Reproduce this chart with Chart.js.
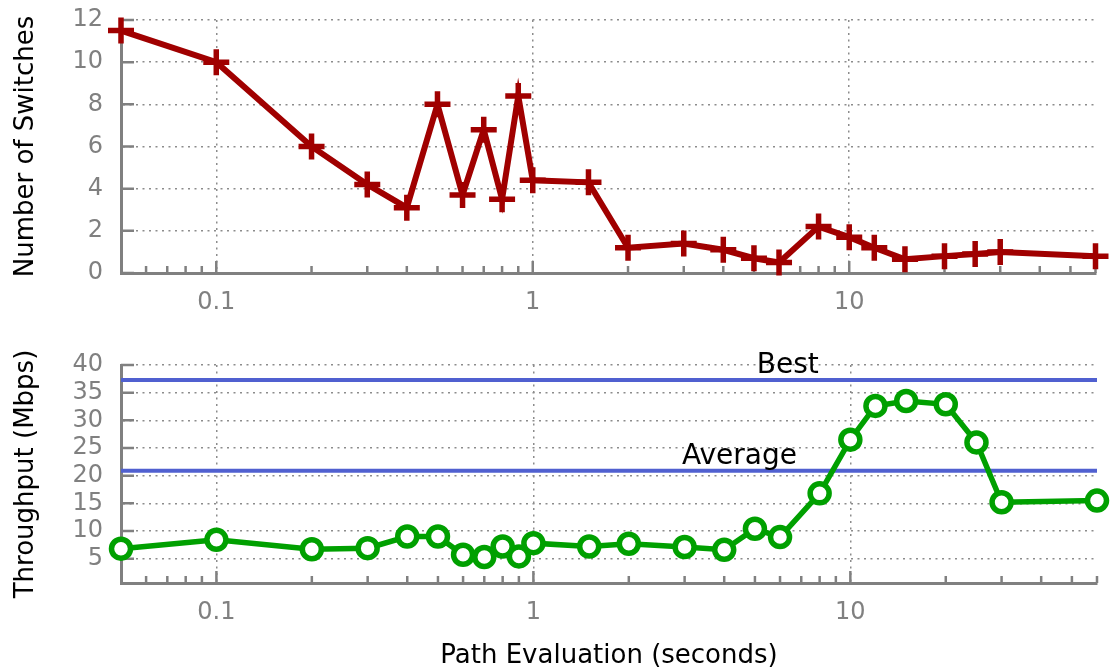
<!DOCTYPE html>
<html>
<head>
<meta charset="utf-8">
<script src="https://cdn.jsdelivr.net/npm/chart.js@4.4.1/dist/chart.umd.min.js"></script>
<style>
body { margin: 0; background: #fff; }
#wrap { position: relative; width: 1114px; height: 672px; }
canvas { position: absolute; left: 0; }
</style>
</head>
<body>
<div id="wrap">
<canvas id="switchChart" width="1114" height="330" style="top:0px"></canvas>
<canvas id="tputChart" width="1114" height="342" style="top:330px"></canvas>
</div>
<script>
// path evaluation interval (seconds), same for both plots
evalSeconds = [0.05, 0.1, 0.2, 0.3, 0.4, 0.5, 0.6, 0.7, 0.8, 0.9, 1, 1.5, 2, 3, 4, 5, 6, 8, 10, 12, 15, 20, 25, 30, 60]

switches = [11.5, 10, 6, 4.2, 3.1, 8, 3.7, 6.8, 3.5, 8.4, 4.4, 4.3, 1.2, 1.4, 1.1, 0.7, 0.5, 2.2, 1.7, 1.2, 0.65, 0.8, 0.9, 1.0, 0.8]

throughput = [6.8, 8.4, 6.7, 6.9, 9.0, 9.0, 5.7, 5.3, 7.2, 5.4, 7.8, 7.2, 7.7, 7.1, 6.6, 10.4, 8.9, 16.8, 26.5, 32.6, 33.5, 32.9, 26.0, 15.2, 15.5]

// reference lines in the throughput plot
refNames = ['Best', 'Average']
refValues = [37.3, 20.9]
refLabelAt = [6.35, 4.47]

// axis ticks
xMajor = [0.1, 1, 10]
xMinor = [0.06, 0.07, 0.08, 0.09, 0.2, 0.3, 0.4, 0.5, 0.6, 0.7, 0.8, 0.9,
	2, 3, 4, 5, 6, 7, 8, 9, 20, 30, 40, 50, 60]
switchTicks = [0, 2, 4, 6, 8, 10, 12]
tputTicks = [5, 10, 15, 20, 25, 30, 35, 40]

var RED = '#a00000'
var GREEN = '#00a000'
var BLUE = '#5060d0'
var GRAY = '#808080'
var GRID = '#8c8c8c'
var FONT = 'DejaVu Sans'

var xTicks = xMinor.concat(xMajor).sort(function(a, b){ return a - b })

function isMajor(v){
	return xMajor.indexOf(v) >= 0
}

function points(ys){
	return evalSeconds.map(function(x, i){ return {x: x, y: ys[i]} })
}

// gnuplot style: tick marks point into the plot
var inwardTicks = {
	id: 'inwardTicks',
	beforeDatasetsDraw: function(chart){
		var ctx = chart.ctx, xs = chart.scales.x, ys = chart.scales.y, area = chart.chartArea
		ctx.save()
		ctx.strokeStyle = GRAY
		ctx.lineWidth = 2.5
		ctx.beginPath()
		xs.ticks.forEach(function(t){
			var px = xs.getPixelForValue(t.value)
			var len = isMajor(t.value) ? 12 : 7
			ctx.moveTo(px, area.bottom)
			ctx.lineTo(px, area.bottom - len)
		})
		ys.ticks.forEach(function(t){
			var py = ys.getPixelForValue(t.value)
			ctx.moveTo(area.left, py)
			ctx.lineTo(area.left + 13, py)
		})
		ctx.stroke()
		ctx.restore()
	}
}

var refLabels = {
	id: 'refLabels',
	afterDatasetsDraw: function(chart){
		var ctx = chart.ctx, xs = chart.scales.x, ys = chart.scales.y
		ctx.save()
		ctx.fillStyle = '#000'
		ctx.font = '28px "' + FONT + '"'
		ctx.textAlign = 'center'
		ctx.textBaseline = 'alphabetic'
		refNames.forEach(function(name, i){
			ctx.fillText(name, xs.getPixelForValue(refLabelAt[i]), ys.getPixelForValue(refValues[i]) - 7)
		})
		ctx.restore()
	}
}

function xScale(withTitle){
	return {
		type: 'logarithmic',
		min: 0.05,
		max: 60,
		afterBuildTicks: function(s){
			s.ticks = xTicks.map(function(v){ return {value: v, major: isMajor(v)} })
		},
		afterFit: function(s){
			s.height = withTitle ? 89 : 57
			s.paddingLeft = 0
			s.paddingRight = 0
		},
		grid: {
			drawTicks: false,
			lineWidth: 1.5,
			color: function(c){ return (c.tick && isMajor(c.tick.value)) ? GRID : 'rgba(0,0,0,0)' }
		},
		border: {display: true, color: GRAY, width: 3, dash: [2, 4.5]},
		ticks: {
			color: GRAY,
			font: {family: FONT, size: 24},
			padding: 15,
			autoSkip: false,
			maxRotation: 0,
			minRotation: 0,
			callback: function(v){ return isMajor(v) ? String(v) : '' }
		},
		title: {
			display: withTitle,
			text: 'Path Evaluation (seconds)',
			color: '#000',
			font: {family: FONT, size: 26},
			padding: 0
		}
	}
}

function yScale(min, max, tickList, label){
	return {
		type: 'linear',
		min: min,
		max: max,
		afterBuildTicks: function(s){
			s.ticks = tickList.map(function(v){ return {value: v} })
		},
		afterFit: function(s){
			s.width = 121
			s.paddingTop = 0
			s.paddingBottom = 0
		},
		grid: {drawTicks: false, lineWidth: 1.5, color: GRID},
		border: {display: true, color: GRAY, width: 3, dash: [2, 4.5]},
		ticks: {color: GRAY, font: {family: FONT, size: 24}, padding: 18, autoSkip: false},
		title: {
			display: true,
			text: label,
			color: '#000',
			font: {family: FONT, size: 26},
			padding: {top: 11, bottom: 0}
		}
	}
}

var common = {
	responsive: false,
	animation: false,
	events: [],
	plugins: {legend: {display: false}, tooltip: {enabled: false}}
}

new Chart(document.getElementById('switchChart').getContext('2d'), {
	type: 'line',
	data: {
		datasets: [{
			data: points(switches),
			borderColor: RED,
			borderWidth: 6,
			pointStyle: 'cross',
			pointRadius: 13,
			pointBorderWidth: 5.5,
			pointBorderColor: RED,
			fill: false,
			clip: false
		}]
	},
	options: Object.assign({}, common, {
		layout: {padding: {top: 20, right: 17, left: 0, bottom: 0}},
		scales: {x: xScale(false), y: yScale(0, 12, switchTicks, 'Number of Switches')}
	}),
	plugins: [inwardTicks]
})

var refSets = refValues.map(function(v){
	return {
		data: [{x: 0.05, y: v}, {x: 60, y: v}],
		borderColor: BLUE,
		borderWidth: 4,
		pointRadius: 0,
		fill: false,
		order: 1
	}
})

new Chart(document.getElementById('tputChart').getContext('2d'), {
	type: 'line',
	data: {
		datasets: [{
			data: points(throughput),
			borderColor: GREEN,
			borderWidth: 5.5,
			pointStyle: 'circle',
			pointRadius: 9.5,
			pointBorderWidth: 5.5,
			pointBorderColor: GREEN,
			pointBackgroundColor: '#fff',
			fill: false,
			clip: false,
			order: 0
		}].concat(refSets)
	},
	options: Object.assign({}, common, {
		layout: {padding: {top: 35, right: 17, left: 0, bottom: 0}},
		scales: {x: xScale(true), y: yScale(0.6, 40, tputTicks, 'Throughput (Mbps)')}
	}),
	plugins: [inwardTicks, refLabels]
})
</script>
</body>
</html>
